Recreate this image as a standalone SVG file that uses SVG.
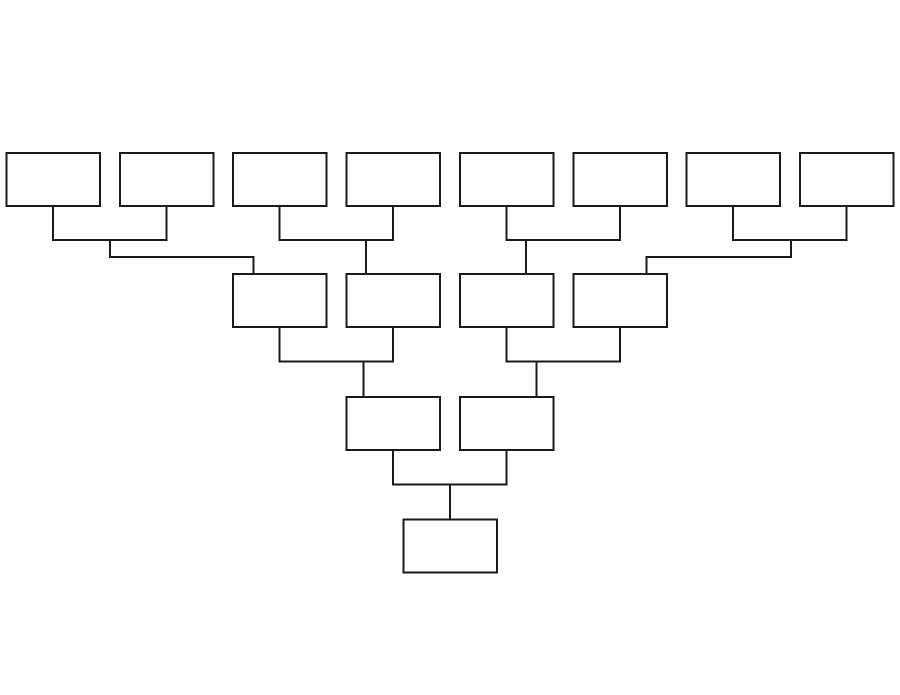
<svg xmlns="http://www.w3.org/2000/svg" width="900" height="695" viewBox="0 0 900 695">
<style>
.n{fill:#fff;stroke:#1a1a1a;stroke-width:2}
.c{fill:none;stroke:#1a1a1a;stroke-width:2}
</style>
<rect width="900" height="695" fill="#fff"/>
<g id="connectors" class="c">
<path d="M53 206V240H166.5V206M110 240V257H253.5V274"/>
<path d="M279.5 206V240H393V206M366 240V274"/>
<path d="M506.5 206V240H620V206M526 240V274"/>
<path d="M733 206V240H846.5V206M791 240V257H646.5V274"/>
<path d="M279.5 327V361.5H393V327M363.5 361.5V397"/>
<path d="M506.5 327V361.5H620V327M536.5 361.5V397"/>
<path d="M393 450V484.5H506.5V450M450 484.5V519"/>
</g>
<g id="n1"><rect class="n" x="6.5" y="153" width="93.5" height="53"/></g>
<g id="n2"><rect class="n" x="120" y="153" width="93.5" height="53"/></g>
<g id="n3"><rect class="n" x="233" y="153" width="93.5" height="53"/></g>
<g id="n4"><rect class="n" x="346.5" y="153" width="93.5" height="53"/></g>
<g id="n5"><rect class="n" x="460" y="153" width="93.5" height="53"/></g>
<g id="n6"><rect class="n" x="573.5" y="153" width="93.5" height="53"/></g>
<g id="n7"><rect class="n" x="686.5" y="153" width="93.5" height="53"/></g>
<g id="n8"><rect class="n" x="800" y="153" width="93.5" height="53"/></g>
<g id="n9"><rect class="n" x="233" y="274" width="93.5" height="53"/></g>
<g id="n10"><rect class="n" x="346.5" y="274" width="93.5" height="53"/></g>
<g id="n11"><rect class="n" x="460" y="274" width="93.5" height="53"/></g>
<g id="n12"><rect class="n" x="573.5" y="274" width="93.5" height="53"/></g>
<g id="n13"><rect class="n" x="346.5" y="397" width="93.5" height="53"/></g>
<g id="n14"><rect class="n" x="460" y="397" width="93.5" height="53"/></g>
<g id="n15"><rect class="n" x="403.5" y="519.5" width="93.5" height="53"/></g>
</svg>
